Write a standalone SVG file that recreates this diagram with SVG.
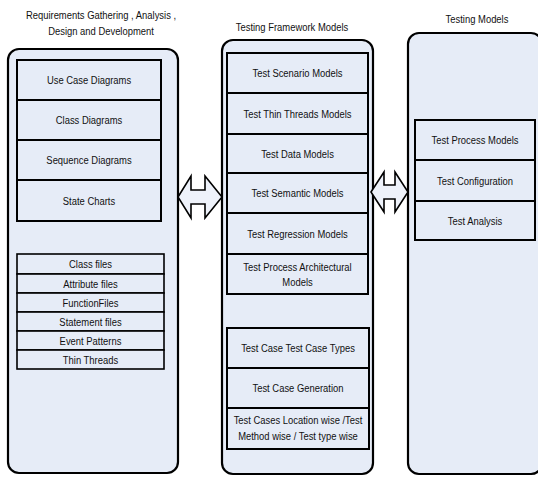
<svg xmlns="http://www.w3.org/2000/svg" width="538" height="477" viewBox="0 0 538 477">
<style>
text{font-family:"Liberation Sans",Arial,sans-serif;font-size:11.5px;fill:#111;text-anchor:middle}
.cont{fill:#E6ECF7;stroke:#000;stroke-width:2.2}
.box{fill:#E6ECF7;stroke:#000;stroke-width:2}
.sbox{fill:#E6ECF7;stroke:#000;stroke-width:1.6}
.arr{fill:#EEF2FA;stroke:#000;stroke-width:1.6;stroke-linejoin:miter}
</style>
<rect width="538" height="477" fill="#fff"/>
<g id="titles">
<text transform="matrix(.82 0 0 1 101 19)">Requirements Gathering , Analysis ,</text>
<text transform="matrix(.82 0 0 1 101 35)">Design and Development</text>
<text transform="matrix(.82 0 0 1 292 31)">Testing  Framework Models</text>
<text transform="matrix(.82 0 0 1 477 23)">Testing Models</text>
</g>
<g id="left-container">
<rect class="cont" x="8" y="49" width="170" height="424" rx="11"/>
</g>
<g id="use-case"><rect class="box" x="17" y="60" width="144" height="40"/><text transform="matrix(.82 0 0 1 89 84)">Use Case Diagrams</text></g>
<g id="class-diagrams"><rect class="box" x="17" y="100" width="144" height="40"/><text transform="matrix(.82 0 0 1 89 124)">Class Diagrams</text></g>
<g id="sequence"><rect class="box" x="17" y="140" width="144" height="40"/><text transform="matrix(.82 0 0 1 89 164)">Sequence Diagrams</text></g>
<g id="state-charts"><rect class="box" x="17" y="180" width="144" height="41"/><text transform="matrix(.82 0 0 1 89 205)">State Charts</text></g>
<g id="class-files"><rect class="sbox" x="17" y="254" width="147" height="20"/><text transform="matrix(.82 0 0 1 90.5 268)">Class files</text></g>
<g id="attribute-files"><rect class="sbox" x="17" y="274" width="147" height="19"/><text transform="matrix(.82 0 0 1 90.5 288)">Attribute files</text></g>
<g id="function-files"><rect class="sbox" x="17" y="293" width="147" height="19"/><text transform="matrix(.82 0 0 1 90.5 307)">FunctionFiles</text></g>
<g id="statement-files"><rect class="sbox" x="17" y="312" width="147" height="19"/><text transform="matrix(.82 0 0 1 90.5 326)">Statement files</text></g>
<g id="event-patterns"><rect class="sbox" x="17" y="331" width="147" height="19"/><text transform="matrix(.82 0 0 1 90.5 345)">Event Patterns</text></g>
<g id="thin-threads"><rect class="sbox" x="17" y="350" width="147" height="19"/><text transform="matrix(.82 0 0 1 90.5 364)">Thin Threads</text></g>

<g id="middle-container">
<rect class="cont" x="222" y="40" width="151" height="434" rx="11"/>
</g>
<g id="test-scenario"><rect class="box" x="227" y="53" width="141" height="40"/><text transform="matrix(.82 0 0 1 297.5 77)">Test Scenario Models</text></g>
<g id="test-thin-threads"><rect class="box" x="227" y="93" width="141" height="41"/><text transform="matrix(.82 0 0 1 297.5 118)">Test Thin Threads Models</text></g>
<g id="test-data"><rect class="box" x="227" y="134" width="141" height="39"/><text transform="matrix(.82 0 0 1 297.5 158)">Test Data Models</text></g>
<g id="test-semantic"><rect class="box" x="227" y="173" width="141" height="40"/><text transform="matrix(.82 0 0 1 297.5 197)">Test Semantic Models</text></g>
<g id="test-regression"><rect class="box" x="227" y="213" width="141" height="41"/><text transform="matrix(.82 0 0 1 297.5 238)">Test Regression Models</text></g>
<g id="test-process-arch"><rect class="box" x="227" y="254" width="141" height="40"/><text transform="matrix(.82 0 0 1 297.5 271)">Test Process Architectural</text><text transform="matrix(.82 0 0 1 297.5 286)">Models</text></g>
<g id="test-case-types"><rect class="box" x="227" y="328" width="142" height="40"/><text transform="matrix(.82 0 0 1 298 352)">Test Case Test Case Types</text></g>
<g id="test-case-generation"><rect class="box" x="227" y="368" width="142" height="40"/><text transform="matrix(.82 0 0 1 298 392)">Test Case Generation</text></g>
<g id="test-cases-location"><rect class="box" x="227" y="408" width="142" height="41"/><text transform="matrix(.82 0 0 1 298 424)">Test Cases Location wise  /Test</text><text transform="matrix(.82 0 0 1 298 440)">Method wise / Test type wise</text></g>

<g id="right-container">
<rect class="cont" x="408" y="33" width="134" height="441" rx="11"/>
</g>
<g id="test-process-models"><rect class="box" x="415" y="120" width="120" height="40"/><text transform="matrix(.82 0 0 1 475 144)">Test Process Models</text></g>
<g id="test-configuration"><rect class="box" x="415" y="160" width="120" height="41"/><text transform="matrix(.82 0 0 1 475 185)">Test Configuration</text></g>
<g id="test-analysis"><rect class="box" x="415" y="201" width="120" height="39"/><text transform="matrix(.82 0 0 1 475 225)">Test Analysis</text></g>

<g id="connectors">
<polygon class="arr" points="178,197 191,176 191,190 205,190 205,176 222,197 205,218 205,204 191,204 191,218"/>
<polygon class="arr" points="371,192 384,172 384,185 395,185 395,172 408,192 395,212 395,199 384,199 384,212"/>
</g>
</svg>
